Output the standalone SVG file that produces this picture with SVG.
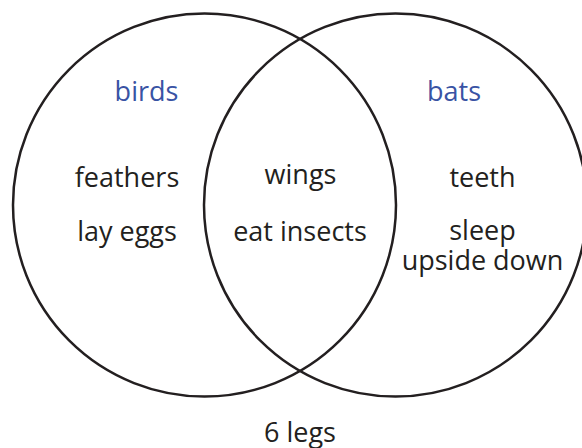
<svg xmlns="http://www.w3.org/2000/svg" width="582" height="448" viewBox="0 0 582 448">
<style>
.c{fill:none;stroke:#231f20;stroke-width:2.5}
text{font-family:"Open Sans","Noto Sans","Liberation Sans",sans-serif;font-size:27px;fill:#231f20;text-anchor:middle}
.t{fill:#3953a4}
</style>
<rect width="582" height="448" fill="#ffffff"/>
<g id="connectors"></g>
<g id="birds-set">
<circle class="c" cx="204.5" cy="205" r="191.5"/>
<text class="t" x="146.5" y="100.5">birds</text>
<text x="127" y="186.5">feathers</text>
<text x="127" y="240.5">lay eggs</text>
</g>
<g id="bats-set">
<circle class="c" cx="395.5" cy="205" r="191.5"/>
<text class="t" x="454" y="100.5">bats</text>
<text x="482.5" y="186.5">teeth</text>
<text x="482.5" y="240">sleep</text>
<text x="482.5" y="270">upside down</text>
</g>
<g id="both">
<text x="300.5" y="183.5">wings</text>
<text x="300" y="240.5">eat insects</text>
</g>
<g id="outside">
<text x="300" y="441.5">6 legs</text>
</g>
</svg>
